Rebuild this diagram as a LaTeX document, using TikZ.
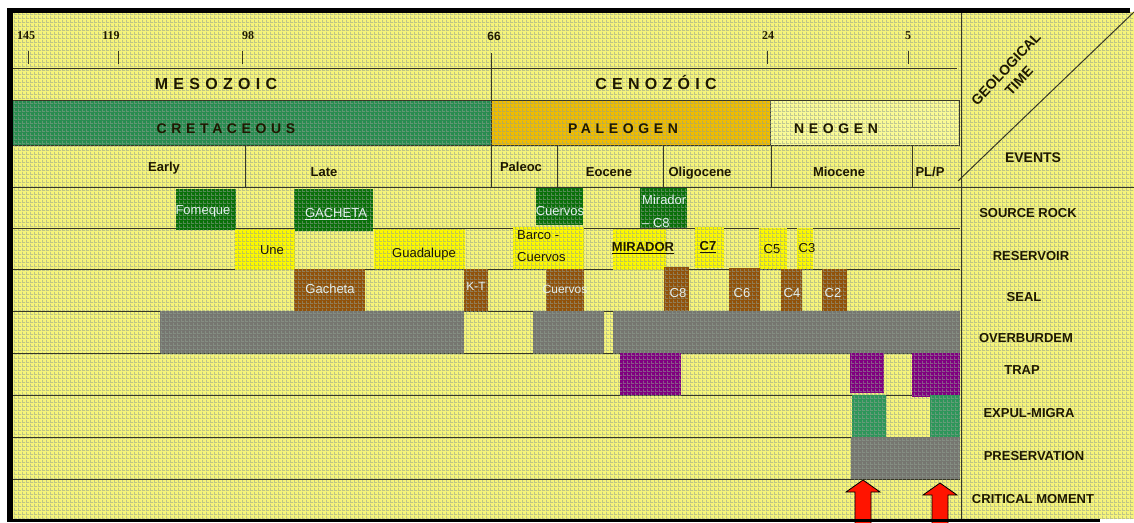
\documentclass[tikz,border=0pt]{standalone}
\usepackage{fontspec}
\setmainfont{Liberation Sans}
\newfontfamily\numfont{Liberation Serif}
\newfontfamily\spacedfont[LetterSpace=33]{Liberation Sans}
\usetikzlibrary{patterns,fit}

\pgfdeclarepatternformonly{plaid}{\pgfqpoint{0pt}{0pt}}{\pgfqpoint{3.5pt}{3.5pt}}{\pgfqpoint{3.5pt}{3.5pt}}{%
 \pgfsetlinewidth{0.9pt}%
 \pgfpathmoveto{\pgfqpoint{0pt}{0.45pt}}\pgfpathlineto{\pgfqpoint{3.5pt}{0.45pt}}%
 \pgfpathmoveto{\pgfqpoint{0.45pt}{0pt}}\pgfpathlineto{\pgfqpoint{0.45pt}{3.5pt}}%
 \pgfusepath{stroke}}

\definecolor{bgyel}{RGB}{246,244,122}
\definecolor{gridc}{RGB}{145,160,145}
\definecolor{rulec}{RGB}{55,55,35}
\definecolor{cretc}{RGB}{40,140,80}
\definecolor{paleoc}{RGB}{240,188,0}
\definecolor{neoc}{RGB}{250,250,150}
\definecolor{srcc}{RGB}{10,112,10}
\definecolor{resc}{RGB}{252,248,0}
\definecolor{sealc}{RGB}{145,82,10}
\definecolor{grayc}{RGB}{118,118,112}
\definecolor{trapc}{RGB}{128,0,128}
\definecolor{expc}{RGB}{45,150,90}
\definecolor{lighttext}{RGB}{228,240,240}
\definecolor{darktext}{RGB}{30,24,0}
\definecolor{arrowred}{RGB}{255,20,0}

\tikzset{
  plaid/.style={postaction={pattern=plaid, pattern color=gridc, fill opacity=0.55}},
  evbox/.style={inner sep=0pt, outer sep=0pt, fill=#1, plaid},
  rowline/.style={draw=rulec, line width=1pt},
  t13/.style={font=\fontsize{13}{15}\selectfont, inner sep=0pt, text height=9.3pt, text depth=0pt},
  t12/.style={font=\fontsize{12}{14}\selectfont, inner sep=0pt, text height=8.6pt, text depth=0pt},
  b13/.style={font=\fontsize{13}{15}\selectfont\bfseries, inner sep=0pt, text height=9.3pt, text depth=0pt, text=darktext},
  b14/.style={font=\fontsize{14}{16}\selectfont\bfseries, inner sep=0pt, text height=10pt, text depth=0pt, text=darktext},
  era/.style={font=\spacedfont\bfseries\fontsize{16}{18}\selectfont, inner sep=0pt, text height=11.5pt, text depth=0pt, text=darktext},
  per/.style={font=\spacedfont\bfseries\fontsize{14}{16}\selectfont, inner sep=0pt, text height=10pt, text depth=0pt, text=darktext},
  num/.style={font=\numfont\bfseries\fontsize{12}{14}\selectfont, inner sep=0pt, text=darktext},
  lt/.style={text=lighttext},
  dk/.style={text=darktext},
}

\begin{document}
\begin{tikzpicture}[x=1pt,y=-1pt]
\useasboundingbox (0,0) rectangle (1134,522);
\fill[white] (0,0) rectangle (1134,522);
\path[fill=bgyel, plaid] (12,12) rectangle (1134,519);

% rules
\draw[rowline] (12,68) -- (957,68);
\draw[rowline] (12,187) -- (1134,187);
\foreach \yy in {228,269,311,353,395,437,479}{\draw[rowline] (12,\yy) -- (960,\yy);}
\draw[rowline] (961,12) -- (961,519);
\draw[rowline] (491,53) -- (491,187);
\draw[rowline] (245,143) -- (245,187);
\draw[rowline] (557,143) -- (557,187);
\draw[rowline] (663,145) -- (663,187);
\draw[rowline] (771,145) -- (771,187);
\draw[rowline] (912,145) -- (912,187);
\draw[rowline] (958,181) -- (1134,12);
\foreach \xx in {28,118,242,767,908}{\draw[rowline] (\xx,51) -- (\xx,64);}

% tick numbers
\node[num] (n145) at (26,36) {145};
\node[num] (n119) at (111,36) {119};
\node[num] (n98) at (248,36) {98};
\node[num, font=\bfseries\fontsize{12}{14}\selectfont] (n66) at (494,36) {66};
\node[num] (n24) at (768,36) {24};
\node[num] (n5) at (908,36) {5};

% eras
\node[era] (meso) at (216,84) {MESOZOIC};
\node[era] (ceno) at (656,84) {CENOZÓIC};

% periods
\node[evbox=cretc, draw=rulec, line width=1pt, fit={(12,100) (491,145)}] (cret) {};
\node[evbox=paleoc, draw=rulec, line width=1pt, fit={(491,100) (770,145)}] (paleo) {};
\node[evbox=neoc, draw=rulec, line width=1pt, fit={(770,100) (959,145)}] (neo) {};
\node[per] (cret-t) at (226,128) {CRETACEOUS};
\node[per] (paleo-t) at (623,128) {PALEOGEN};
\node[per] (neo-t) at (836,128) {NEOGEN};

% epochs
\node[b13] (early) at (164,167) {Early};
\node[b13] (late) at (324,172) {Late};
\node[b13] (paleoc) at (521,167) {Paleoc};
\node[b13] (eocene) at (609,172) {Eocene};
\node[b13] (oligo) at (700,172) {Oligocene};
\node[b13] (mio) at (839,172) {Miocene};
\node[b13] (plp) at (930,172) {PL/P};

% right column
\node[rotate=47, inner sep=0pt, text=darktext, font=\fontsize{14}{17}\selectfont\bfseries] (geo) at (1006,69) {GEOLOGICAL};
\node[rotate=47, inner sep=0pt, text=darktext, font=\fontsize{14}{17}\selectfont\bfseries] (time) at (1019,81) {TIME};
\node[b14] (events) at (1033,157) {EVENTS};
\node[b13] (l-src) at (1028,213) {SOURCE ROCK};
\node[b13] (l-res) at (1031,256) {RESERVOIR};
\node[b13] (l-seal) at (1024,297) {SEAL};
\node[b13] (l-ob) at (1026,338) {OVERBURDEM};
\node[b13] (l-trap) at (1022,370) {TRAP};
\node[b13] (l-exp) at (1029,413) {EXPUL-MIGRA};
\node[b13] (l-pres) at (1034,456) {PRESERVATION};
\node[b13] (l-crit) at (1033,499) {CRITICAL MOMENT};

% source rock
\node[evbox=srcc, fit={(176,189) (236,230)}] (fomeque) {};
\node[evbox=srcc, fit={(294,189) (373,231)}] (gachetaS) {};
\node[evbox=srcc, fit={(536,188) (583,225)}] (cuervosS) {};
\node[evbox=srcc, fit={(640,188) (687,228)}] (miradorS) {};
\node[t13, lt] (fomeque-t) at (203,210) {Fomeque};
\node[t13, lt] (gachetaS-t) at (336,213) {\underline{GACHETA}};
\node[t13, lt] (cuervosS-t) at (560,211) {Cuervos};
\node[t13, lt, anchor=west] (miradorS-t1) at (642,200) {Mirador};
\node[t13, lt, anchor=west] (miradorS-t2) at (642,223) {– C8};

% reservoir
\node[evbox=resc, fit={(235,229) (295,270)}] (une) {};
\node[evbox=resc, fit={(374,229) (465,269)}] (guad) {};
\node[evbox=resc, fit={(513,227) (584,269)}] (barco) {};
\node[evbox=resc, fit={(613,229) (666,270)}] (miradorR) {};
\node[evbox=resc, fit={(695,227) (724,268)}] (c7) {};
\node[evbox=resc, fit={(759,228) (787,269)}] (c5) {};
\node[evbox=resc, fit={(797,228) (813,269)}] (c3) {};
\node[t13, dk] (une-t) at (272,250) {Une};
\node[t13, dk] (guad-t) at (424,253) {Guadalupe};
\node[t13, dk, anchor=west] (barco-t1) at (517,235) {Barco -};
\node[t13, dk, anchor=west] (barco-t2) at (517,257) {Cuervos};
\node[b13] (miradorR-t) at (643,247) {\underline{MIRADOR}};
\node[b13] (c7-t) at (708,246) {\underline{C7}};
\node[t13, dk] (c5-t) at (772,249) {C5};
\node[t13, dk] (c3-t) at (807,248) {C3};

% seal
\node[evbox=sealc, fit={(294,269) (365,311)}] (gachetaL) {};
\node[evbox=sealc, fit={(464,269) (488,311)}] (kt) {};
\node[evbox=sealc, fit={(546,269) (584,311)}] (cuervosL) {};
\node[evbox=sealc, fit={(664,267) (689,316)}] (c8) {};
\node[evbox=sealc, fit={(729,268) (760,313)}] (c6) {};
\node[evbox=sealc, fit={(781,269) (802,311)}] (c4) {};
\node[evbox=sealc, fit={(822,269) (847,311)}] (c2) {};
\node[t13, lt] (gachetaL-t) at (330,289) {Gacheta};
\node[t12, lt] (kt-t) at (476,286) {K-T};
\node[t12, lt] (cuervosL-t) at (565,289) {Cuervos};
\node[t13, lt] (c8-t) at (678,293) {C8};
\node[t13, lt] (c6-t) at (742,293) {C6};
\node[t13, lt] (c4-t) at (792,293) {C4};
\node[t13, lt] (c2-t) at (833,293) {C2};

% overburden
\node[evbox=grayc, fit={(160,311) (464,353)}] (ob1) {};
\node[evbox=grayc, fit={(533,311) (604,353)}] (ob2) {};
\node[evbox=grayc, fit={(613,311) (960,353)}] (ob3) {};

% trap
\node[evbox=trapc, fit={(620,353) (681,395)}] (tr1) {};
\node[evbox=trapc, fit={(850,353) (884,393)}] (tr2) {};
\node[evbox=trapc, fit={(912,353) (960,397)}] (tr3) {};

% expulsion-migration
\node[evbox=expc, fit={(852,395) (886,437)}] (ex1) {};
\node[evbox=expc, fit={(930,395) (960,437)}] (ex2) {};

% preservation
\node[evbox=grayc, fit={(851,437) (960,479)}] (pres) {};

% critical moment arrows
\draw[fill=arrowred, draw=black, line width=0.8pt] (863,480) -- (880,492) -- (871,492) -- (871,524) -- (855,524) -- (855,492) -- (846,492) -- cycle;
\draw[fill=arrowred, draw=black, line width=0.8pt] (940,483) -- (957,495) -- (948,495) -- (948,524) -- (932,524) -- (932,495) -- (923,495) -- cycle;

% frame
\fill[black] (7,8) rectangle (1130,13);
\fill[black] (7,8) rectangle (13,521);
\fill[black] (7,518.5) rectangle (1100,521.5);
\end{tikzpicture}
\end{document}
